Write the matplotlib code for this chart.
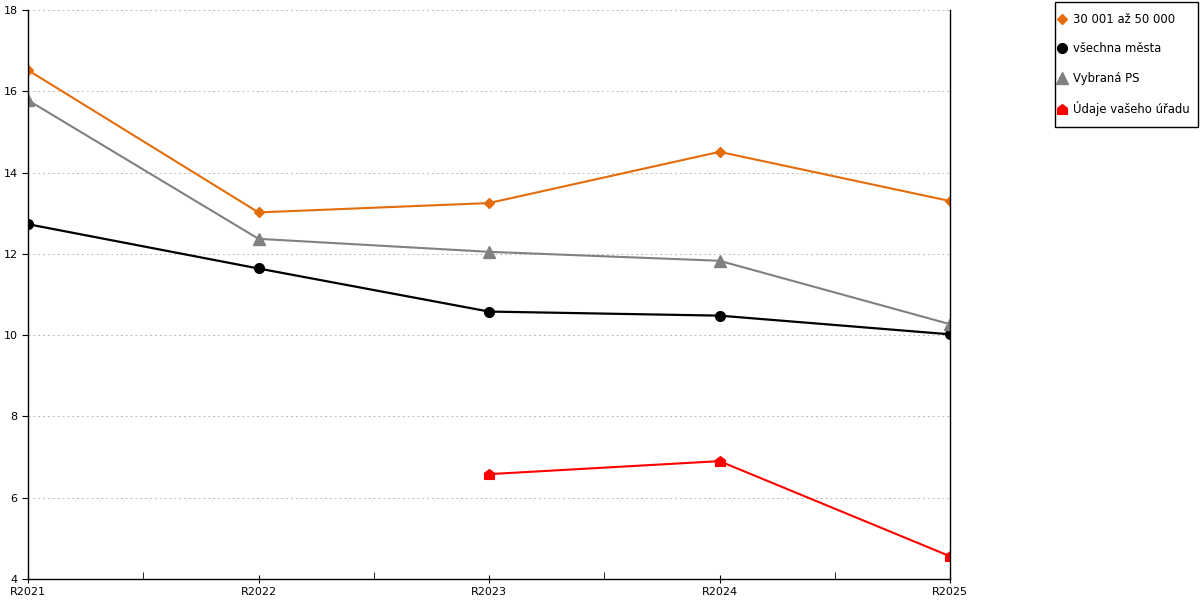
import numpy as np
import matplotlib.pyplot as plt
from matplotlib.path import Path
from matplotlib.patches import Rectangle

years = ['R2021', 'R2022', 'R2023', 'R2024', 'R2025']
orange_vals = [16.52, 13.02, 13.25, 14.51, 13.30]
black_vals = [12.73, 11.64, 10.58, 10.48, 10.02]
gray_vals = [15.78, 12.37, 12.05, 11.83, 10.27]
red_vals = [np.nan, np.nan, 6.58, 6.90, 4.56]

labels = ['30 001 až 50 000', 'všechna města', 'Vybraná PS', 'Údaje vašeho úřadu']

# tvar "domeček" pro červenou řadu
house = Path([(-1, -1), (1, -1), (1, 0.25), (0, 1), (-1, 0.25), (-1, -1)],
             [Path.MOVETO, Path.LINETO, Path.LINETO, Path.LINETO, Path.LINETO, Path.CLOSEPOLY])

plt.rcParams['font.family'] = ['DejaVu Sans']
plt.rcParams['font.size'] = 8

fig = plt.figure(figsize=(12, 6), dpi=100)
ax = fig.add_axes([28 / 1200, 1 - 579 / 600, (950 - 28) / 1200, (579 - 10) / 600])

x = np.arange(len(years))
ax.plot(x, orange_vals, color='#e46c0a', marker='D', markersize=5, lw=1.5, label=labels[0])
ax.plot(x, black_vals, color='black', marker='o', markersize=7, lw=1.6, label=labels[1])
ax.plot(x, gray_vals, color='#808080', marker='^', markersize=8, lw=1.5, label=labels[2])
ax.plot(x, red_vals, color='#ff0000', marker=house, markersize=7, lw=1.5, label=labels[3])

ax.set_xlim(0, len(years) - 1)
ax.set_ylim(4, 18)
ax.set_yticks(np.arange(4, 19, 2))
ax.set_xticks(x)
ax.set_xticklabels(years)
ax.set_xticks(x[:-1] + 0.5, minor=True)
ax.tick_params(axis='x', which='major', length=6, direction='inout', pad=3)
ax.tick_params(axis='x', which='minor', length=5, direction='in')
ax.tick_params(axis='y', length=4, direction='out')

ax.grid(axis='y', color='#bbbbbb', linestyle=(0, (2, 3)), lw=0.7)
ax.set_axisbelow(True)
ax.spines['top'].set_visible(False)
for s in ['left', 'bottom', 'right']:
    ax.spines[s].set_color('black')
    ax.spines[s].set_linewidth(1)

# legenda bez rámečku, rámeček kreslíme zvlášť
leg = fig.legend(loc='upper left', bbox_to_anchor=(1057 / 1200, 1 - 13 / 600),
                 frameon=False, fontsize=8.4,
                 handlelength=0.8, handletextpad=0.6, labelspacing=1.4,
                 borderpad=0, borderaxespad=0)
for h in leg.legend_handles:
    h.set_linestyle('None')
fig.patches.append(Rectangle((1055 / 1200, 1 - 127 / 600), 143 / 1200, 125 / 600,
                             transform=fig.transFigure, fill=False,
                             edgecolor='black', lw=1))

fig.savefig('out.png', dpi=100)
